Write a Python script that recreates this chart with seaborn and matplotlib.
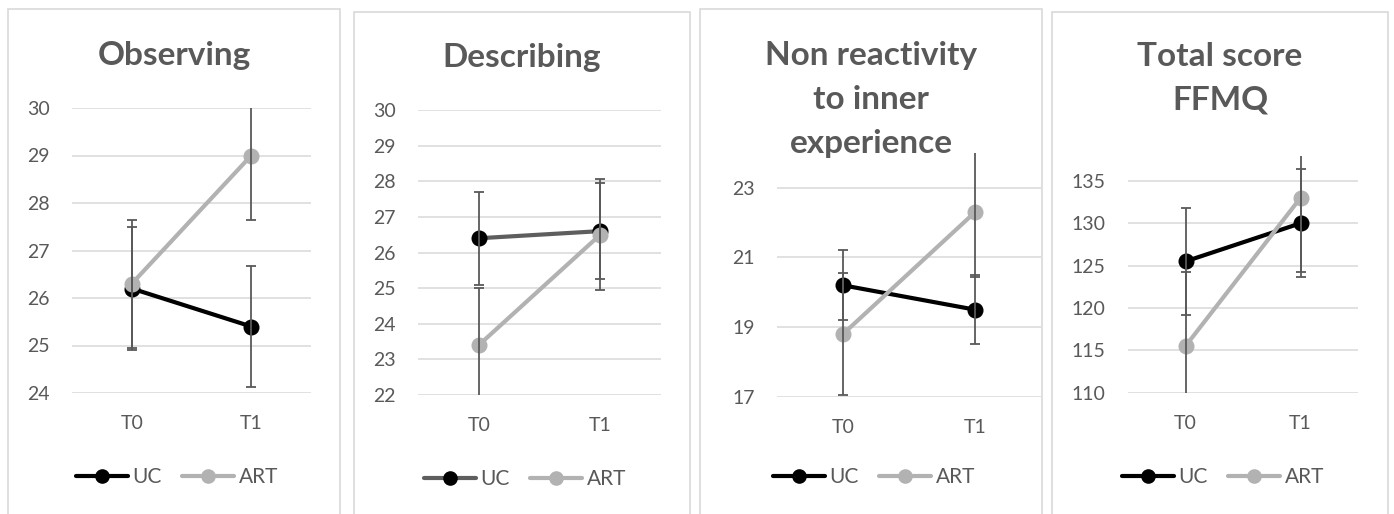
import numpy as np
import pandas as pd
import matplotlib
matplotlib.use("Agg")
import matplotlib.pyplot as plt
from matplotlib.lines import Line2D
from matplotlib.patches import Rectangle
import seaborn as sns

# FFMQ subscale means (with SD) for the two groups at baseline and follow-up
timepoints = ["T0", "T1"]
groups = ["UC", "ART"]
titles = ["Observing", "Describing", "Non reactivity\nto inner\nexperience", "Total score\nFFMQ"]

uc_means = [[26.2, 25.4], [26.4, 26.6], [20.2, 19.5], [125.5, 130.0]]
uc_sd = [[1.3, 1.27], [1.3, 1.35], [1.0, 1.0], [6.3, 6.4]]
art_means = [[26.3, 29.0], [23.4, 26.5], [18.8, 22.3], [115.5, 133.0]]
art_sd = [[1.35, 1.35], [1.6, 1.55], [1.75, 1.85], [8.8, 8.8]]

y_limits = [(24, 30), (22, 30), (17, 24), (110, 138)]
y_ticks = [np.arange(24, 31, 1), np.arange(22, 31, 1), np.arange(17, 24, 2), np.arange(110, 136, 5)]

sns.set_theme(style="white")
plt.rcParams["font.family"] = ["Lato", "DejaVu Sans"]

W, H = 1394, 514
fig = plt.figure(figsize=(W / 100, H / 100), dpi=100)

TEXT = "#595959"
GRID = "#d9d9d9"
ERR = "#595959"
ART_COLOR = "#b2b2b2"

# pixel layout: (frame x0, frame x1, frame top), (axes x0, x1, y_top, y_bottom)
frames = [(8, 340, 9), (354, 690, 12), (700, 1042, 9), (1052, 1388, 12)]
plots = [(72, 311, 108, 393), (418, 661, 110, 395), (777, 1041, 153, 396.7), (1128, 1358, 155.5, 392.7)]
uc_line_colors = ["black", "#5e5e5e", "black", "black"]
legend_y = [477, 479, 477, 477]
# baseline of the last title line, in pixels from the top
title_baseline = [65, 67, 153, 110]


def frac_rect(x0, x1, ytop, ybot):
    return [x0 / W, 1 - ybot / H, (x1 - x0) / W, (ybot - ytop) / H]


for i in range(4):
    fx0, fx1, ftop = frames[i]
    fig.patches.append(Rectangle((fx0 / W, 1 - 530 / H), (fx1 - fx0) / W, (530 - ftop) / H,
                                 transform=fig.transFigure, fill=False,
                                 edgecolor=GRID, linewidth=1.2, zorder=0))

    px0, px1, ptop, pbot = plots[i]
    ax = fig.add_axes(frac_rect(px0, px1, ptop, pbot))

    df = pd.DataFrame({
        "time": timepoints * 2,
        "group": [groups[0]] * 2 + [groups[1]] * 2,
        "score": uc_means[i] + art_means[i],
    })
    palette = {"UC": uc_line_colors[i], "ART": ART_COLOR}
    sns.pointplot(data=df, x="time", y="score", hue="group", hue_order=groups,
                  order=timepoints, palette=palette, errorbar=None, markers="o",
                  linestyles="-", ax=ax, legend=False)
    for ln, mc in zip(ax.lines, ["black", ART_COLOR]):
        ln.set_linewidth(3.0)
        ln.set_markersize(9.5)
        ln.set_markerfacecolor(mc)
        ln.set_markeredgecolor(mc)
        ln.set_solid_capstyle("round")

    xpos = np.arange(len(timepoints))
    for means, sds in ((uc_means[i], uc_sd[i]), (art_means[i], art_sd[i])):
        ax.errorbar(xpos, means, yerr=sds, fmt="none", ecolor=ERR, elinewidth=1.3,
                    capsize=3.8, capthick=1.3, zorder=5)

    ax.set_xlim(-0.5, len(timepoints) - 0.5)
    ax.set_ylim(*y_limits[i])
    ax.set_yticks(y_ticks[i])
    ax.yaxis.grid(True, color=GRID, linewidth=1.1)
    ax.xaxis.grid(False)
    ax.set_axisbelow(True)
    for s in ax.spines.values():
        s.set_visible(False)
    ax.set_xlabel("")
    ax.set_ylabel("")
    ax.tick_params(axis="y", length=0, pad=16, labelsize=14, labelcolor=TEXT)
    ax.tick_params(axis="x", length=0, pad=16, labelsize=14, labelcolor=TEXT)
    ax.set_facecolor("none")

    cx = (fx0 + fx1) / 2
    fig.text(cx / W, 1 - title_baseline[i] / H, titles[i], ha="center", va="baseline",
             fontsize=24, fontweight="bold", color=TEXT, linespacing=1.63)

    handles = [
        Line2D([], [], color=uc_line_colors[i], lw=3.0, marker="o", markersize=9.5,
               markerfacecolor="black", markeredgecolor="black", solid_capstyle="round"),
        Line2D([], [], color=ART_COLOR, lw=3.0, marker="o", markersize=9.5,
               markerfacecolor=ART_COLOR, markeredgecolor=ART_COLOR, solid_capstyle="round"),
    ]
    ax.legend(handles, groups, loc="center", bbox_to_anchor=((cx + 3) / W, 1 - legend_y[i] / H),
              bbox_transform=fig.transFigure, ncol=2, frameon=False, fontsize=15,
              handlelength=2.5, handletextpad=0.24, columnspacing=0.96, labelcolor=TEXT,
              borderaxespad=0, borderpad=0)

fig.savefig("out.png", dpi=100, facecolor="white")
